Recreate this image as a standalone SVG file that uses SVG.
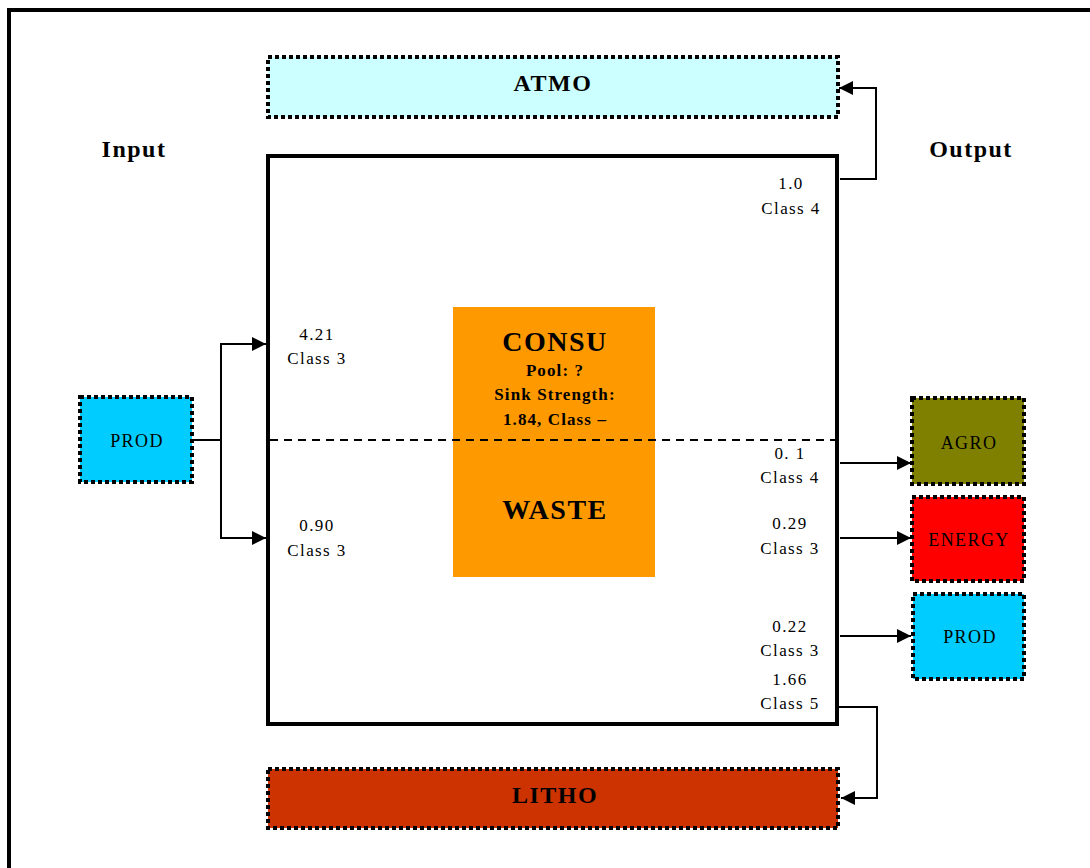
<svg xmlns="http://www.w3.org/2000/svg" width="1090" height="868" viewBox="0 0 1090 868">
  <defs>
    <marker id="arrow" viewBox="0 0 10 10" refX="10" refY="5" markerWidth="14" markerHeight="14" markerUnits="userSpaceOnUse" orient="auto">
      <path d="M0,0 L10,5 L0,10 z" fill="#000"/>
    </marker>
    <style>
      text { font-family: "Liberation Serif", "Times New Roman", serif; fill: #000; text-anchor: middle; }
      .pool { stroke: #000; stroke-width: 4; stroke-dasharray: 4 3; }
      .lbl { font-size: 18px; letter-spacing: 1.4px; }
      .big { font-size: 24px; font-weight: bold; letter-spacing: 1.5px; }
      .title { font-size: 28px; font-weight: bold; letter-spacing: 1.5px; }
      .sub { font-size: 17px; font-weight: bold; letter-spacing: 1.1px; }
      .num { font-size: 17px; letter-spacing: 1.4px; }
      .wire { fill: none; stroke: #000; stroke-width: 2; }
    </style>
  </defs>

  <rect width="1090" height="868" fill="#fff"/>
  <!-- outer frame -->
  <rect x="9" y="10" width="1100" height="880" fill="none" stroke="#000" stroke-width="4"/>

  <text class="big" x="134" y="157">Input</text>
  <text class="big" x="971" y="157">Output</text>

  <!-- main compartment -->
  <g id="compartment">
    <rect x="268" y="156" width="569" height="568" fill="#fff" stroke="#000" stroke-width="4"/>
  </g>

  <g id="consu">
    <rect x="453" y="307" width="202" height="270" fill="#FF9900"/>
    <text class="title" x="555" y="351">CONSU</text>
    <text class="sub" x="555" y="376">Pool: ?</text>
    <text class="sub" x="555" y="400">Sink Strength:</text>
    <text class="sub" x="555" y="425">1.84, Class –</text>
    <text class="title" x="555" y="519">WASTE</text>
  </g>

  <line x1="270" y1="440" x2="835" y2="440" stroke="#000" stroke-width="2" stroke-dasharray="8 6"/>

  <g id="atmo">
    <rect class="pool" x="268" y="57" width="570" height="60" fill="#CCFFFF"/>
    <text class="big" x="553" y="91">ATMO</text>
  </g>
  <g id="litho">
    <rect class="pool" x="268" y="769" width="570" height="59" fill="#CC3300"/>
    <text class="big" x="555" y="803">LITHO</text>
  </g>
  <g id="prod-in">
    <rect class="pool" x="80" y="397" width="112" height="85" fill="#00CCFF"/>
    <text class="lbl" x="137" y="447">PROD</text>
  </g>
  <g id="agro">
    <rect class="pool" x="912" y="398" width="112" height="86" fill="#808000"/>
    <text class="lbl" x="969" y="449">AGRO</text>
  </g>
  <g id="energy">
    <rect class="pool" x="912" y="497" width="112" height="84" fill="#FF0000"/>
    <text class="lbl" x="969" y="546">ENERGY</text>
  </g>
  <g id="prod-out">
    <rect class="pool" x="913" y="594" width="111" height="85" fill="#00CCFF"/>
    <text class="lbl" x="970" y="643">PROD</text>
  </g>

  <!-- flow labels -->
  <g id="flow-labels">
    <text class="num" x="317" y="340">4.21</text>
    <text class="num" x="317" y="364">Class 3</text>
    <text class="num" x="317" y="531">0.90</text>
    <text class="num" x="317" y="556">Class 3</text>
    <text class="num" x="791" y="189">1.0</text>
    <text class="num" x="791" y="214">Class 4</text>
    <text class="num" x="790" y="459">0. 1</text>
    <text class="num" x="790" y="483">Class 4</text>
    <text class="num" x="790" y="529">0.29</text>
    <text class="num" x="790" y="554">Class 3</text>
    <text class="num" x="790" y="632">0.22</text>
    <text class="num" x="790" y="656">Class 3</text>
    <text class="num" x="790" y="685">1.66</text>
    <text class="num" x="790" y="709">Class 5</text>
  </g>

  <!-- connectors -->
  <g id="connectors">
    <polyline class="wire" points="192,440 221,440"/>
    <polyline class="wire" points="221,440 221,344 266,344" marker-end="url(#arrow)"/>
    <polyline class="wire" points="221,440 221,538 266,538" marker-end="url(#arrow)"/>
    <polyline class="wire" points="840,179 876,179 876,88 839,88" marker-end="url(#arrow)"/>
    <polyline class="wire" points="839,707 877,707 877,798 841,798" marker-end="url(#arrow)"/>
    <line class="wire" x1="840" y1="463" x2="911" y2="463" marker-end="url(#arrow)"/>
    <line class="wire" x1="840" y1="538" x2="911" y2="538" marker-end="url(#arrow)"/>
    <line class="wire" x1="840" y1="636" x2="911" y2="636" marker-end="url(#arrow)"/>
  </g>
</svg>
